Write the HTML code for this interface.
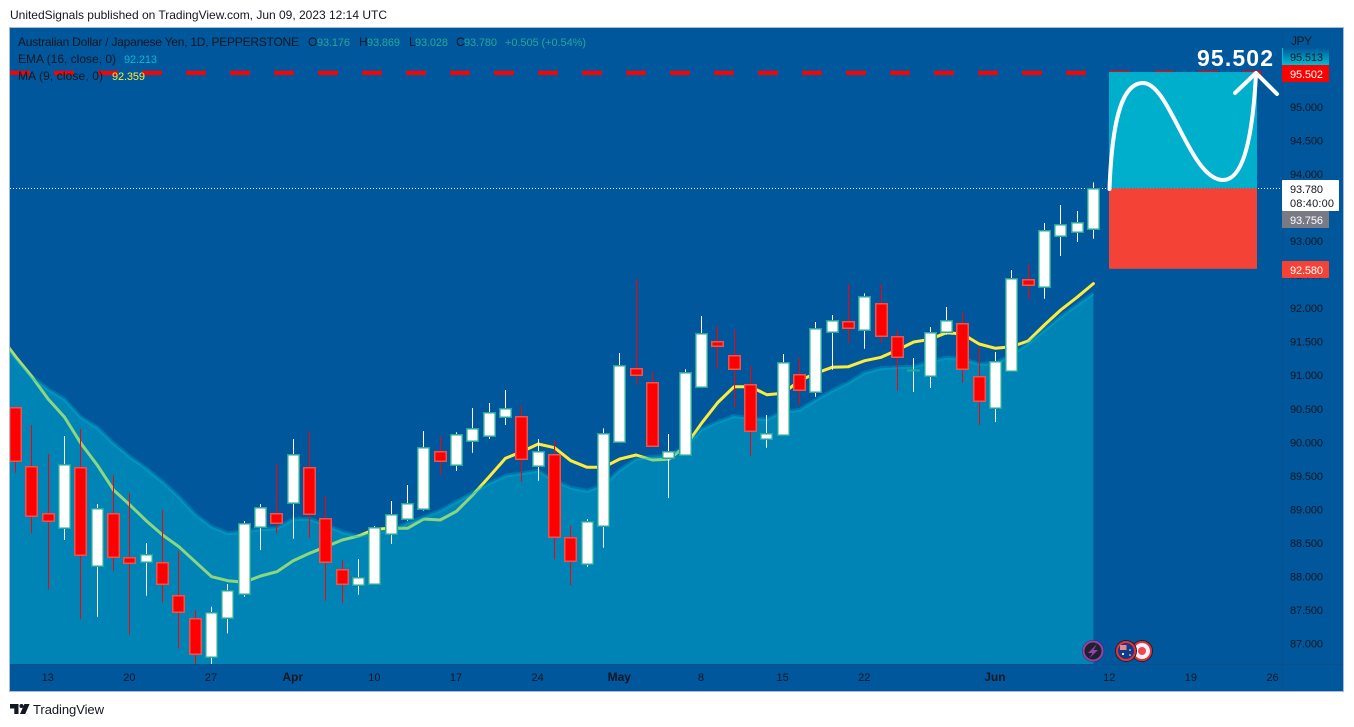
<!DOCTYPE html>
<html lang="en">
<head>
<meta charset="utf-8">
<title>AUD/JPY daily chart</title>
<style>
html,body{margin:0;padding:0;background:#fff;width:1354px;height:727px;overflow:hidden}
svg{display:block;font-family:"Liberation Sans",sans-serif}
</style>
</head>
<body>
<svg id="chart" width="1354" height="727" viewBox="0 0 1354 727" xmlns="http://www.w3.org/2000/svg">
  <defs>
    <clipPath id="plot-clip"><rect x="10" y="28" width="1272" height="636"/></clipPath>
    <linearGradient id="cyan-label" x1="0" y1="0" x2="0" y2="1">
      <stop offset="0" stop-color="#01579b"/>
      <stop offset="1" stop-color="#00bcd4"/>
    </linearGradient>
  </defs>
  <rect x="0" y="0" width="1354" height="727" fill="#ffffff"/>
  <text x="10" y="19" font-size="12" fill="#131722" textLength="377" lengthAdjust="spacing">UnitedSignals published on TradingView.com, Jun 09, 2023 12:14 UTC</text>
  <rect x="9.5" y="27.5" width="1334" height="664" fill="#01579b" stroke="#a3bdd8" stroke-width="1"/>

  <g id="plot" clip-path="url(#plot-clip)"></g>

  <line x1="10" y1="664.5" x2="1343" y2="664.5" stroke="#0b4f8c"/>
  <line x1="1282.5" y1="28" x2="1282.5" y2="691" stroke="#0b4f8c"/>
  <g id="time-axis"></g>
  <g id="price-axis"></g>
  <g id="overlays"></g>

  <g font-size="12">
    <text x="18" y="46" fill="#131722" textLength="281" lengthAdjust="spacing">Australian Dollar / Japanese Yen, 1D, PEPPERSTONE</text>
    <text x="308" y="46" fill="#131722">O</text>
    <text x="317" y="46" font-size="11" fill="#26a69a" textLength="33" lengthAdjust="spacing">93.176</text>
    <text x="359" y="46" fill="#131722">H</text>
    <text x="367" y="46" font-size="11" fill="#26a69a" textLength="33" lengthAdjust="spacing">93.869</text>
    <text x="409" y="46" fill="#131722">L</text>
    <text x="415" y="46" font-size="11" fill="#26a69a" textLength="33" lengthAdjust="spacing">93.028</text>
    <text x="456" y="46" fill="#131722">C</text>
    <text x="464" y="46" font-size="11" fill="#26a69a" textLength="33" lengthAdjust="spacing">93.780</text>
    <text x="505" y="46" font-size="11" fill="#26a69a" textLength="81" lengthAdjust="spacing">+0.505 (+0.54%)</text>
    <text x="18" y="63" fill="#131722" textLength="98" lengthAdjust="spacing">EMA (16, close, 0)</text>
    <text x="124" y="63" font-size="11" fill="#00bcd4" textLength="33" lengthAdjust="spacing">92.213</text>
    <text x="18" y="80" fill="#131722" textLength="85" lengthAdjust="spacing">MA (9, close, 0)</text>
    <text x="112" y="80" font-size="11" fill="#ffeb3b" textLength="33" lengthAdjust="spacing">92.359</text>
  </g>

  <text x="1291" y="45" font-size="12" fill="#131722" textLength="21" lengthAdjust="spacing">JPY</text>

  <g>
    <circle cx="1093" cy="651" r="11" fill="#2a3552"/>
    <circle cx="1093" cy="651" r="9.5" fill="#1e222d" stroke="#9c3fb0" stroke-width="2"/>
    <polygon points="1097,644 1088,653 1092.5,653 1089.5,658 1098,650 1093.5,650" fill="#9c3fb0"/>
    <circle cx="1142" cy="651" r="11" fill="#1e222d"/>
    <circle cx="1142" cy="651" r="9" fill="#f4f4f6" stroke="#e8303c" stroke-width="2"/>
    <circle cx="1142" cy="651" r="4" fill="#f5444f"/>
    <circle cx="1126" cy="651" r="11" fill="#1e222d"/>
    <circle cx="1126" cy="651" r="9" fill="#123b86" stroke="#e8303c" stroke-width="2"/>
    <rect x="1120" y="645" width="6.5" height="5" fill="#e08a96"/>
    <circle cx="1123" cy="654" r="1.1" fill="#ffffff"/>
    <circle cx="1130" cy="650" r="0.8" fill="#ffffff"/>
    <circle cx="1130" cy="655" r="0.8" fill="#ffffff"/>
  </g>

  <g>
    <path d="M10 704h8.5v10h-4.2v-5.5H10z M24.4 704h5.2l-4.4 10h-5.2z" fill="#131722"/>
    <circle cx="21.5" cy="706" r="2" fill="#131722"/>
    <text x="33" y="714" font-size="13" fill="#131722" textLength="71" lengthAdjust="spacing">TradingView</text>
  </g>
</svg>

<script>
var candleOpens = [90.514,89.635,88.934,88.710,89.620,88.143,88.934,88.278,88.203,88.203,87.711,87.368,86.791,87.372,87.730,88.725,88.934,89.083,89.620,88.859,88.099,87.864,87.875,88.621,88.844,88.993,89.858,89.650,90.007,90.082,90.365,90.380,89.634,89.814,88.576,88.173,88.740,89.992,91.096,90.887,89.763,89.803,90.813,91.499,91.290,90.866,90.037,90.101,91.006,90.738,91.633,91.797,91.663,92.065,91.573,91.075,90.977,91.642,91.767,90.986,90.499,91.051,92.423,92.313,93.073,93.133,93.176];
var candleHighs = [90.514,90.250,89.818,90.086,90.191,89.072,89.505,89.232,88.491,88.983,88.372,87.492,87.541,87.879,88.819,89.072,89.669,90.042,90.157,89.196,88.237,88.252,88.744,89.117,89.356,90.161,90.086,90.142,90.504,90.579,90.772,90.534,90.042,90.027,88.744,88.849,90.201,91.324,92.428,91.051,90.116,91.081,91.876,91.731,91.677,91.141,90.400,91.309,91.254,91.786,91.891,92.353,92.214,92.353,91.667,91.249,91.712,92.010,91.936,91.409,91.339,92.562,92.651,93.263,93.531,93.442,93.869];
var candleLows = [89.539,88.635,87.800,88.536,87.353,87.392,88.078,87.124,87.705,87.601,86.915,86.597,86.597,87.144,87.690,88.386,88.630,88.555,88.570,87.630,87.592,87.720,87.875,88.476,88.823,88.973,89.505,89.564,89.837,90.042,90.250,89.405,89.420,88.248,87.864,88.137,88.421,89.992,90.847,89.933,89.162,89.799,90.813,91.090,90.508,89.793,89.912,90.101,90.549,90.672,91.075,91.473,91.388,91.469,90.762,90.743,90.802,91.597,90.877,90.250,90.295,91.051,92.129,92.134,92.771,92.979,93.028];
var candleCloses = [89.709,88.889,88.814,89.664,88.307,89.008,88.278,88.188,88.331,87.875,87.457,86.831,87.466,87.794,88.794,89.032,88.785,89.822,88.919,88.203,87.875,87.988,88.725,88.928,89.092,89.918,89.718,90.112,90.201,90.440,90.499,89.748,89.867,88.585,88.227,88.823,90.136,91.150,90.992,89.933,89.867,91.045,91.618,91.433,91.081,90.166,90.136,91.185,90.768,91.692,91.821,91.701,92.179,91.573,91.260,91.075,91.633,91.821,91.090,90.613,91.209,92.438,92.343,93.154,93.243,93.273,93.780];

// The first entry in each average belongs to the session just left of the visible range.
var emaValues = [91.592,91.250,90.971,90.783,90.634,90.365,90.216,89.978,89.778,89.605,89.405,89.181,88.919,88.734,88.635,88.659,88.695,88.710,88.844,88.849,88.759,88.655,88.595,88.640,88.685,88.785,88.874,88.972,89.107,89.241,89.381,89.494,89.530,89.569,89.420,89.315,89.266,89.356,89.579,89.743,89.778,89.788,89.927,90.186,90.295,90.385,90.350,90.335,90.449,90.474,90.623,90.762,90.881,91.030,91.096,91.111,91.120,91.194,91.254,91.235,91.160,91.171,91.294,91.469,91.667,91.865,92.040,92.213];
var maValues = [91.592,91.269,90.971,90.634,90.365,89.978,89.654,89.281,89.057,88.823,88.610,88.436,88.212,87.988,87.929,87.905,87.999,88.063,88.227,88.337,88.436,88.536,88.595,88.695,88.710,88.710,88.849,88.834,88.963,89.207,89.479,89.754,89.852,89.967,89.912,89.718,89.620,89.620,89.743,89.803,89.728,89.739,89.927,90.276,90.586,90.822,90.822,90.702,90.723,90.911,91.021,91.111,91.120,91.209,91.260,91.369,91.488,91.528,91.627,91.607,91.458,91.394,91.418,91.503,91.742,91.965,92.155,92.359];

var priceTicks = [95.5,95,94.5,94,93.5,93,92.5,92,91.5,91,90.5,90,89.5,89,88.5,88,87.5,87];
var timeLabels = ['13','20','27','Apr','10','17','24','May','8','15','22','Jun','12','19','26'];
var timeLabelBars = [2,7,12,17,22,27,32,37,42,47,52,60,67,72,77];
var boldTimeLabels = ['Apr','May','Jun'];

var lastClose = 93.780;
var targetPrice = 95.502;
var stopPrice = 92.580;
var bidPrice = 93.756;
var cyanLabelPrice = 95.513;

var NS = 'http://www.w3.org/2000/svg';
function svgEl(tag, attrs, parent) {
  var el = document.createElementNS(NS, tag);
  for (var k in attrs) el.setAttribute(k, attrs[k]);
  parent.appendChild(el);
  return el;
}
function xScale(i) { return 15.6 + 16.33 * i; }
function yScale(p) { return 106.5 + (95 - p) * 67.06; }
function linePoints(values) {
  var out = [];
  for (var i = 0; i < values.length; i++) {
    out.push(xScale(i - 1).toFixed(1) + ',' + yScale(values[i]).toFixed(1));
  }
  return out;
}

var plot = document.getElementById('plot');
var priceAxis = document.getElementById('price-axis');
var timeAxis = document.getElementById('time-axis');
var overlays = document.getElementById('overlays');

// Moving average sits underneath the translucent EMA area.
var maLine = svgEl('polyline', {points: linePoints(maValues).join(' '), fill: 'none', stroke: '#ffeb3b', 'stroke-width': 3, 'stroke-linejoin': 'round', 'stroke-linecap': 'round'}, plot);



var emaPts = linePoints(emaValues);
var lastBarX = xScale(emaValues.length - 2).toFixed(1);
var emaArea = svgEl('polygon', {points: emaPts.join(' ') + ' ' + lastBarX + ',664 ' + xScale(-1).toFixed(1) + ',664', fill: '#00bcd4', 'fill-opacity': 0.45}, plot);



var emaLine = svgEl('polyline', {points: emaPts.join(' '), fill: 'none', stroke: '#00bcd4', 'stroke-opacity': 0.3, 'stroke-width': 4, 'stroke-linejoin': 'round'}, plot);



var lastPriceLine = svgEl('line', {x1: 10, x2: 1282, y1: Math.round(yScale(lastClose)) + 0.5, y2: Math.round(yScale(lastClose)) + 0.5, stroke: '#ffffff', 'stroke-width': 1, 'stroke-dasharray': '1 2'}, plot);



for (var c = 0; c < candleOpens.length; c++) {
  var isUp = candleCloses[c] >= candleOpens[c];
  var cx = Math.floor(xScale(c));
  var wick = svgEl('line', {x1: cx + 0.5, x2: cx + 0.5, y1: yScale(candleHighs[c]), y2: yScale(candleLows[c]), stroke: isUp ? '#ffffff' : '#ff0000', 'stroke-width': 1}, plot);
  
  
  var bodyTop = Math.round(yScale(Math.max(candleOpens[c], candleCloses[c])));
  var bodyBottom = Math.round(yScale(Math.min(candleOpens[c], candleCloses[c])));
  if (bodyBottom === bodyTop) {
    var doji = svgEl('line', {x1: cx - 6, x2: cx + 7, y1: bodyTop + 0.5, y2: bodyTop + 0.5, stroke: '#26a69a', 'stroke-width': 2}, plot);
    
    
  } else {
    var body = svgEl('rect', {x: cx - 5.25, y: bodyTop + 0.75, width: 11.5, height: bodyBottom - bodyTop - 0.5, fill: isUp ? '#ffffff' : '#ff0000', stroke: isUp ? '#26a69a' : '#ef5350', 'stroke-width': 1.5}, plot);
    
    
  }
}

for (var t = 0; t < priceTicks.length; t++) {
  var tick = svgEl('text', {x: 1290, y: yScale(priceTicks[t]) + 4.5, 'font-size': 11, fill: '#131722', textLength: 33, lengthAdjust: 'spacing'}, priceAxis);
  
  
  tick.textContent = priceTicks[t].toFixed(3);
}

for (var d = 0; d < timeLabels.length; d++) {
  var isBold = boldTimeLabels.indexOf(timeLabels[d]) >= 0;
  var label = svgEl('text', {x: xScale(timeLabelBars[d]) - 0.5, y: 681, 'font-size': isBold ? 12 : 11, 'text-anchor': 'middle', fill: '#131722', 'font-weight': isBold ? 'bold' : 'normal'}, timeAxis);
  
  
  label.textContent = timeLabels[d];
}

// Target level dashes run behind the profit box.
var targetY = yScale(targetPrice);
var targetLine = svgEl('line', {x1: 10, x2: 1261, y1: targetY, y2: targetY, stroke: '#ff0000', 'stroke-width': 4, 'stroke-dasharray': '20 24'}, overlays);



var entryY = yScale(lastClose);
var stopY = yScale(stopPrice);
var profitBox = svgEl('rect', {x: 1109, y: targetY - 0.8, width: 148, height: entryY - targetY + 0.8, fill: '#00afcb'}, overlays);



var lossBox = svgEl('rect', {x: 1109, y: entryY, width: 148, height: stopY - entryY, fill: '#f44336'}, overlays);



var curve = svgEl('path', {d: 'M1109.5 189C1112 120 1122 83 1143 83C1170 83 1190 180 1223 180C1245 180 1253 130 1256 74', fill: 'none', stroke: '#ffffff', 'stroke-width': 4, 'stroke-linecap': 'round'}, overlays);



var arrow = svgEl('polyline', {points: '1235,93 1256,73 1277,94', fill: 'none', stroke: '#ffffff', 'stroke-width': 4, 'stroke-linecap': 'round', 'stroke-linejoin': 'round'}, overlays);



var targetText = svgEl('text', {x: 1197, y: 66, 'font-size': 23, 'font-weight': 'bold', fill: '#ffffff', textLength: 76, lengthAdjust: 'spacing'}, overlays);


targetText.textContent = targetPrice.toFixed(3);

function labelY(p) { return Math.round(yScale(p)); }

var cyanBg = svgEl('rect', {x: 1282, y: 48, width: 47, height: 17, fill: 'url(#cyan-label)'}, overlays);


var cyanEdge = svgEl('rect', {x: 1282, y: 48, width: 1, height: 17, fill: '#00bcd4'}, overlays);


var cyanText = svgEl('text', {x: 1290, y: 61, 'font-size': 11, fill: '#131722', textLength: 33, lengthAdjust: 'spacing'}, overlays);


cyanText.textContent = cyanLabelPrice.toFixed(3);

var targetBg = svgEl('rect', {x: 1282, y: labelY(targetPrice) - 8, width: 47, height: 17, fill: '#ff0000'}, overlays);


var targetLabel = svgEl('text', {x: 1290, y: labelY(targetPrice) + 5, 'font-size': 11, fill: '#ffffff', textLength: 33, lengthAdjust: 'spacing'}, overlays);


targetLabel.textContent = targetPrice.toFixed(3);

var closeBg = svgEl('rect', {x: 1282, y: labelY(lastClose) - 8, width: 57, height: 31, rx: 1, fill: '#ffffff'}, overlays);


var closeLabel = svgEl('text', {x: 1290, y: labelY(lastClose) + 5, 'font-size': 11, fill: '#131722', textLength: 33, lengthAdjust: 'spacing'}, overlays);


closeLabel.textContent = lastClose.toFixed(3);
var countdown = svgEl('text', {x: 1290, y: labelY(lastClose) + 19, 'font-size': 11, fill: '#131722', textLength: 44, lengthAdjust: 'spacing'}, overlays);


countdown.textContent = '08:40:00';

var bidBg = svgEl('rect', {x: 1282, y: 211, width: 47, height: 17, fill: '#787b86'}, overlays);


var bidLabel = svgEl('text', {x: 1290, y: 224, 'font-size': 11, fill: '#ffffff', textLength: 33, lengthAdjust: 'spacing'}, overlays);


bidLabel.textContent = bidPrice.toFixed(3);

var stopBg = svgEl('rect', {x: 1282, y: 261, width: 47, height: 17, rx: 1, fill: '#f44336'}, overlays);


var stopLabel = svgEl('text', {x: 1290, y: 274, 'font-size': 11, fill: '#ffffff', textLength: 33, lengthAdjust: 'spacing'}, overlays);


stopLabel.textContent = stopPrice.toFixed(3);
</script>
</body>
</html>
